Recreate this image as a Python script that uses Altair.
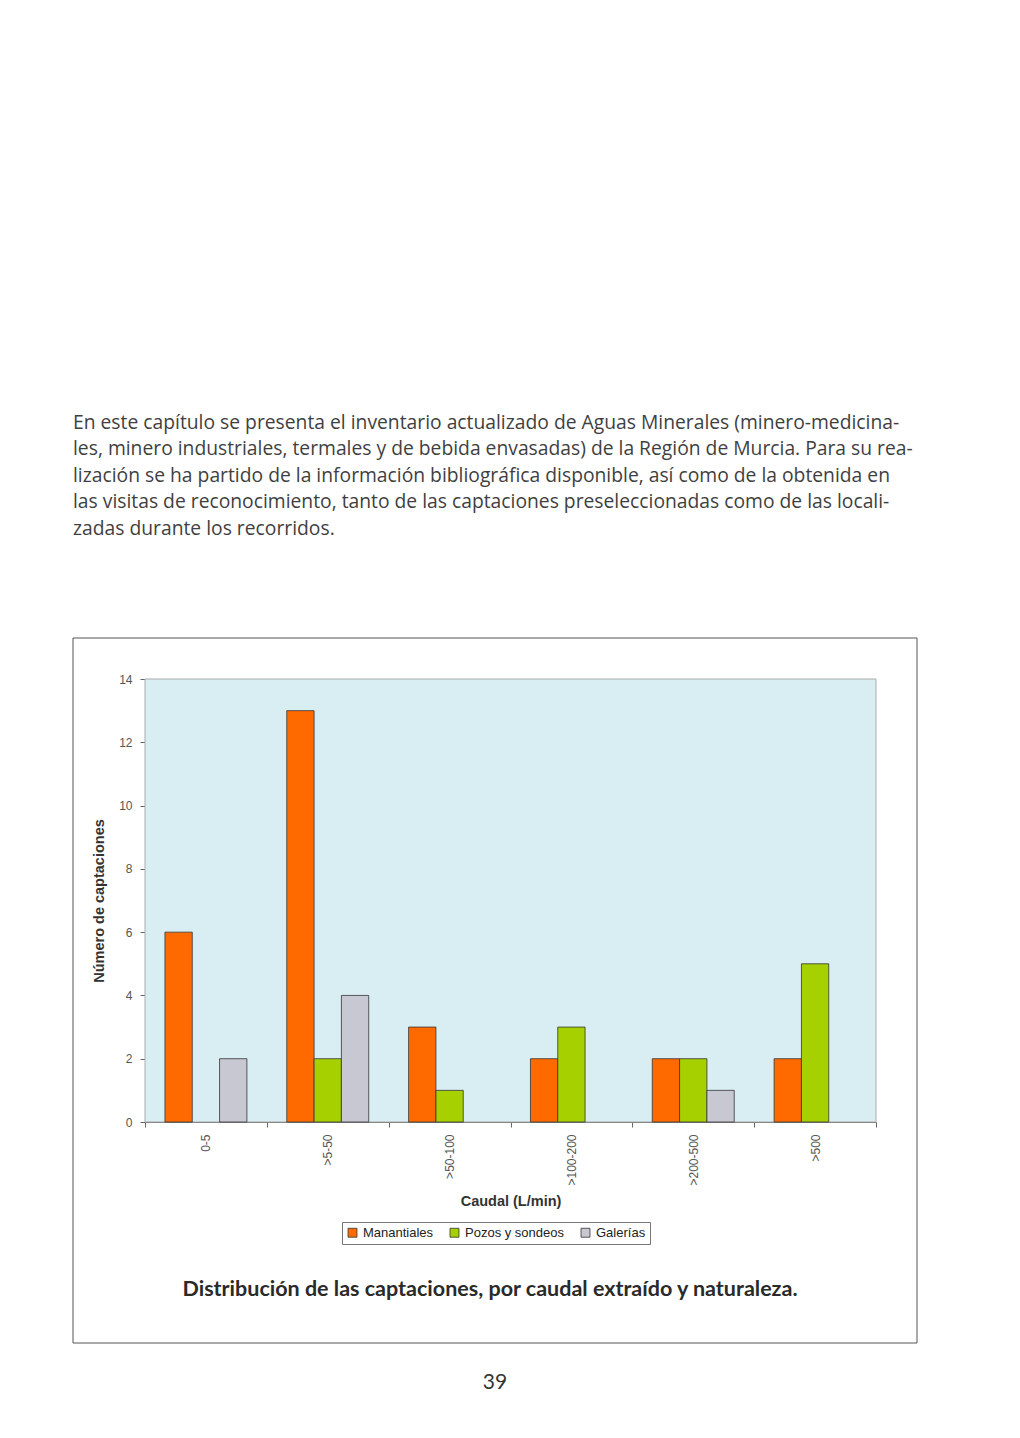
import altair as alt
import pandas as pd

categorias = ["0-5", ">5-50", ">50-100", ">100-200", ">200-500", ">500"]
series = ["Manantiales", "Pozos y sondeos", "Galerías"]
manantiales = [6, 13, 3, 2, 2, 2]
pozos = [0, 2, 1, 3, 2, 5]
galerias = [2, 4, 0, 0, 1, 0]
colores = ["#ff6a00", "#a6d000", "#c8c8d2"]

parrafo = [
    "En este capítulo se presenta el inventario actualizado de Aguas Minerales (minero-medicina-",
    "les, minero industriales, termales y de bebida envasadas) de la Región de Murcia. Para su rea-",
    "lización se ha partido de la información bibliográfica disponible, así como de la obtenida en",
    "las visitas de reconocimiento, tanto de las captaciones preseleccionadas como de las locali-",
    "zadas durante los recorridos.",
]
titulo = "Distribución de las captaciones, por caudal extraído y naturaleza."
pagina = "39"

rows = []
for i, c in enumerate(categorias):
    for s, vals in zip(series, [manantiales, pozos, galerias]):
        rows.append({"caudal": c, "serie": s, "valor": vals[i]})
df = pd.DataFrame(rows)

one = pd.DataFrame({"a": [0]})

plot_bg = alt.Chart(one).mark_rect(fill="#d9eef3", stroke="#aaaaaa", strokeWidth=1).encode(
    x=alt.value(0), x2=alt.value(731), y=alt.value(0), y2=alt.value(443)
)

bars = alt.Chart(df).transform_filter(alt.datum.valor > 0).mark_bar(
    stroke="#333333", strokeWidth=0.8
).encode(
    x=alt.X("caudal:N", sort=categorias,
            scale=alt.Scale(domain=categorias, paddingInner=0, paddingOuter=0),
            axis=alt.Axis(title="Caudal (L/min)", labelAngle=-90, tickBand="extent",
                          labelPadding=7, titlePadding=9)),
    xOffset=alt.XOffset("serie:N", sort=series,
                        scale=alt.Scale(domain=series, paddingInner=0, paddingOuter=0.73)),
    y=alt.Y("valor:Q", scale=alt.Scale(domain=[0, 14]),
            axis=alt.Axis(title="Número de captaciones", values=[0, 2, 4, 6, 8, 10, 12, 14],
                          grid=False, labelPadding=8, titlePadding=12)),
    color=alt.Color("serie:N", sort=series,
                    scale=alt.Scale(domain=series, range=colores),
                    legend=alt.Legend(title=None, orient="none", legendX=197, legendY=543,
                                      direction="horizontal",
                                      symbolType="square", symbolSize=80,
                                      symbolStrokeColor="#333333", symbolStrokeWidth=0.8,
                                      strokeColor="#777777", padding=4,
                                      labelFontSize=13, labelColor="#222222",
                                      columnPadding=14, symbolOffset=0)),
)

frame = alt.Chart(one).mark_rect(
    fill=None, stroke="#555555", strokeWidth=1
).encode(x=alt.value(-72), x2=alt.value(772), y=alt.value(-41), y2=alt.value(664))

texto = alt.Chart(pd.DataFrame({"t": ["\n".join(parrafo)]})).mark_text(
    align="left", baseline="top", lineBreak="\n", lineHeight=26.4,
    font="Open Sans", fontSize=19.3, color="#3f3f3f"
).encode(text="t:N", x=alt.value(-72), y=alt.value(-265))

tit = alt.Chart(pd.DataFrame({"t": [titulo]})).mark_text(
    align="center", baseline="middle", font="Lato", fontWeight="bold",
    fontSize=21.5, color="#2a2a2a"
).encode(text="t:N", x=alt.value(345), y=alt.value(611))

pag = alt.Chart(pd.DataFrame({"t": [pagina]})).mark_text(
    align="center", baseline="middle", font="Lato", fontSize=21, color="#333333"
).encode(text="t:N", x=alt.value(350), y=alt.value(704))

chart = alt.layer(frame, plot_bg, bars, texto, tit, pag).properties(
    width=731, height=443,
    padding={"left": 145, "top": 679, "right": 144, "bottom": 316},
    autosize=alt.AutoSizeParams(type="none"),
    background="white",
).configure_view(
    stroke=None
).configure_axis(
    labelFont="Liberation Sans", labelFontSize=12, labelColor="#555555",
    titleFont="Liberation Sans", titleFontSize=14.5, titleFontWeight="bold", titleColor="#333333",
    domainColor="#666666", tickColor="#666666", tickSize=5
).configure_legend(
    labelFont="Liberation Sans"
)

chart.save("out.html", embed_options={"renderer": "svg", "actions": False})
